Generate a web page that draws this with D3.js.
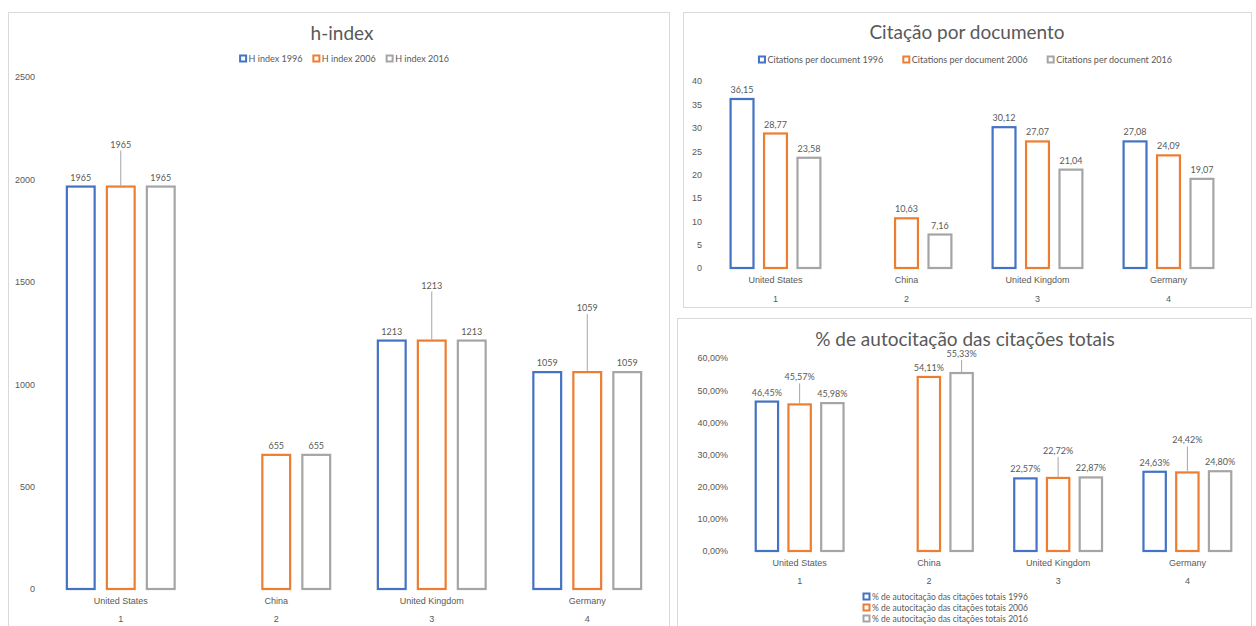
<!DOCTYPE html>
<html>
<head>
<meta charset="utf-8">
<script src="https://cdn.jsdelivr.net/npm/d3@7"></script>
<style>
  body { margin: 0; background: #ffffff; }
  svg { display: block; font-family: Lato, "Open Sans", sans-serif; }
</style>
</head>
<body>
<svg id="chart" width="1256" height="626"></svg>
<script>
// ---- data ----
const countries = ["United States", "China", "United Kingdom", "Germany"];
const groupNumbers = ["1", "2", "3", "4"];

const hIndexSeries = ["H index 1996", "H index 2006", "H index 2016"];
const hIndex1996 = [1965, null, 1213, 1059];
const hIndex2006 = [1965, 655, 1213, 1059];
const hIndex2016 = [1965, 655, 1213, 1059];
const hIndexTicks = [0, 500, 1000, 1500, 2000, 2500];

const citSeries = ["Citations per document 1996", "Citations per document 2006", "Citations per document 2016"];
const cit1996 = [36.15, null, 30.12, 27.08];
const cit2006 = [28.77, 10.63, 27.07, 24.09];
const cit2016 = [23.58, 7.16, 21.04, 19.07];
const citTicks = [0, 5, 10, 15, 20, 25, 30, 35, 40];

const selfSeries = ["% de autocitação das citações totais 1996", "% de autocitação das citações totais 2006", "% de autocitação das citações totais 2016"];
const self1996 = [46.45, null, 22.57, 24.63];
const self2006 = [45.57, 54.11, 22.72, 24.42];
const self2016 = [45.98, 55.33, 22.87, 24.80];
const selfTicks = [0, 10, 20, 30, 40, 50, 60];

// ---- styling ----
const seriesColors = ["#4472C4", "#ED7D31", "#A5A5A5"];
const textColor = "#595959";
const leaderColor = "#a6a6a6";

// extra lift (px) of individual value labels that were dragged upward, [series][category]
const hIndexLabelLift = [[0, 0, 0, 0], [33, 0, 46, 55], [0, 0, 0, 0]];
const citLabelLift = [[0, 0, 0, 0], [0, 0, 0, 0], [0, 0, 0, 0]];
const selfLabelLift = [[0, 0, 0, 0], [18, 0, 18, 23], [0, 10, 0, 0]];

const commaDec = v => d3.format(".2f")(v).replace(".", ",");

const svg = d3.select("#chart");

function drawPanel(p) {
  const g = svg.append("g");

  g.append("rect")
    .attr("x", p.box[0] + 0.5).attr("y", p.box[1] + 0.5)
    .attr("width", p.box[2]).attr("height", p.box[3])
    .attr("fill", "#fff").attr("stroke", "#d9d9d9").attr("stroke-width", 1);

  g.append("text")
    .attr("x", p.titleX).attr("y", p.titleY)
    .attr("text-anchor", "middle")
    .attr("font-size", p.titleSize)
    .attr("fill", textColor)
    .text(p.title);

  const x = d3.scaleBand().domain(d3.range(countries.length)).range([p.left, p.right]);
  const xs = d3.scaleBand().domain(d3.range(p.values.length))
    .range([-p.groupHalf, p.groupHalf]).paddingInner(0.25);
  const y = d3.scaleLinear().domain([0, p.max]).range([p.zeroY, p.topY]);

  // value axis
  const yAxis = g.append("g")
    .attr("transform", `translate(${p.axisX},0)`)
    .call(d3.axisLeft(y).tickValues(p.ticks).tickSize(0).tickPadding(0).tickFormat(p.tickFormat));
  yAxis.select(".domain").remove();
  yAxis.selectAll("text").attr("fill", textColor).attr("font-size", 9).attr("font-family", null);

  // category axis: names, then group numbers
  const xAxis = g.append("g")
    .attr("transform", `translate(0,${p.zeroY + p.catOffset})`)
    .call(d3.axisBottom(x).tickSize(0).tickPadding(0).tickFormat(i => countries[i]));
  xAxis.select(".domain").remove();
  xAxis.selectAll("text").attr("fill", textColor).attr("font-size", 9).attr("font-family", null);

  const nAxis = g.append("g")
    .attr("transform", `translate(0,${p.zeroY + p.numOffset})`)
    .call(d3.axisBottom(x).tickSize(0).tickPadding(0).tickFormat(i => groupNumbers[i]));
  nAxis.select(".domain").remove();
  nAxis.selectAll("text").attr("fill", textColor).attr("font-size", 9).attr("font-family", null);

  // bars + labels
  p.values.forEach((vals, s) => {
    const pts = vals.map((v, i) => ({ v, i })).filter(d => d.v !== null);
    const cx = d => x(d.i) + x.bandwidth() / 2 + xs(s);

    g.selectAll(null).data(pts).join("rect")
      .attr("x", d => cx(d) + 1.1)
      .attr("y", d => y(d.v))
      .attr("width", xs.bandwidth() - 2.2)
      .attr("height", d => p.zeroY - y(d.v))
      .attr("fill", "#fff")
      .attr("stroke", seriesColors[s])
      .attr("stroke-width", 2.2);

    const lift = d => p.lift[s][d.i];
    g.selectAll(null).data(pts.filter(d => lift(d) > 0)).join("line")
      .attr("x1", d => cx(d) + xs.bandwidth() / 2)
      .attr("x2", d => cx(d) + xs.bandwidth() / 2)
      .attr("y1", d => y(d.v) - 6 - lift(d) + 3)
      .attr("y2", d => y(d.v) - 1)
      .attr("stroke", leaderColor).attr("stroke-width", 1);

    g.selectAll(null).data(pts).join("text")
      .attr("x", d => cx(d) + xs.bandwidth() / 2)
      .attr("y", d => y(d.v) - 6 - lift(d))
      .attr("text-anchor", "middle")
      .attr("font-size", 9)
      .attr("fill", textColor)
      .text(d => p.labelFormat(d.v));
  });

  // legend
  const lg = g.append("g");
  const items = p.series.map((name, s) => {
    const it = lg.append("g");
    it.append("rect").attr("x", 0.5).attr("y", -6.5).attr("width", 6).attr("height", 6)
      .attr("fill", "#fff").attr("stroke", seriesColors[s]).attr("stroke-width", 2);
    it.append("text").attr("x", 9).attr("y", 0).attr("font-size", p.legendSize).attr("fill", textColor).text(name);
    return it;
  });
  if (p.legendVertical) {
    items.forEach((it, s) => it.attr("transform", `translate(${p.legendX},${p.legendY + s * p.legendRow})`));
  } else {
    const widths = items.map(it => it.node().getBBox().width);
    const gap = p.legendGap;
    const total = d3.sum(widths) + gap * (widths.length - 1);
    let cur = p.legendX - total / 2;
    items.forEach((it, s) => {
      it.attr("transform", `translate(${cur},${p.legendY})`);
      cur += widths[s] + gap;
    });
  }
}

drawPanel({
  box: [8, 12, 661, 640],
  title: "h-index", titleX: 342, titleY: 40, titleSize: 19,
  series: hIndexSeries, values: [hIndex1996, hIndex2006, hIndex2016], lift: hIndexLabelLift,
  left: 43, right: 665, groupHalf: 55,
  max: 2500, zeroY: 589, topY: 77, ticks: hIndexTicks,
  axisX: 35, tickFormat: d3.format("d"), labelFormat: d3.format("d"),
  catOffset: 9, numOffset: 27,
  legendX: 344, legendY: 62, legendGap: 11, legendSize: 9
});

drawPanel({
  box: [683, 12, 568, 295],
  title: "Citação por documento", titleX: 967, titleY: 39, titleSize: 19,
  series: citSeries, values: [cit1996, cit2006, cit2016], lift: citLabelLift,
  left: 710, right: 1234, groupHalf: 46,
  max: 40, zeroY: 268, topY: 81, ticks: citTicks,
  axisX: 702, tickFormat: d3.format("d"), labelFormat: commaDec,
  catOffset: 9, numOffset: 28,
  legendX: 965, legendY: 63, legendGap: 20, legendSize: 9
});

drawPanel({
  box: [677, 318, 574, 330],
  title: "% de autocitação das citações totais", titleX: 965, titleY: 346, titleSize: 19,
  series: selfSeries, values: [self1996, self2006, self2016], lift: selfLabelLift,
  left: 735, right: 1252, groupHalf: 45,
  max: 60, zeroY: 551, topY: 358, ticks: selfTicks,
  axisX: 728, tickFormat: v => commaDec(v) + "%", labelFormat: v => commaDec(v) + "%",
  catOffset: 9, numOffset: 27,
  legendVertical: true, legendX: 863, legendY: 600, legendRow: 11, legendSize: 8.5
});
</script>
</body>
</html>
